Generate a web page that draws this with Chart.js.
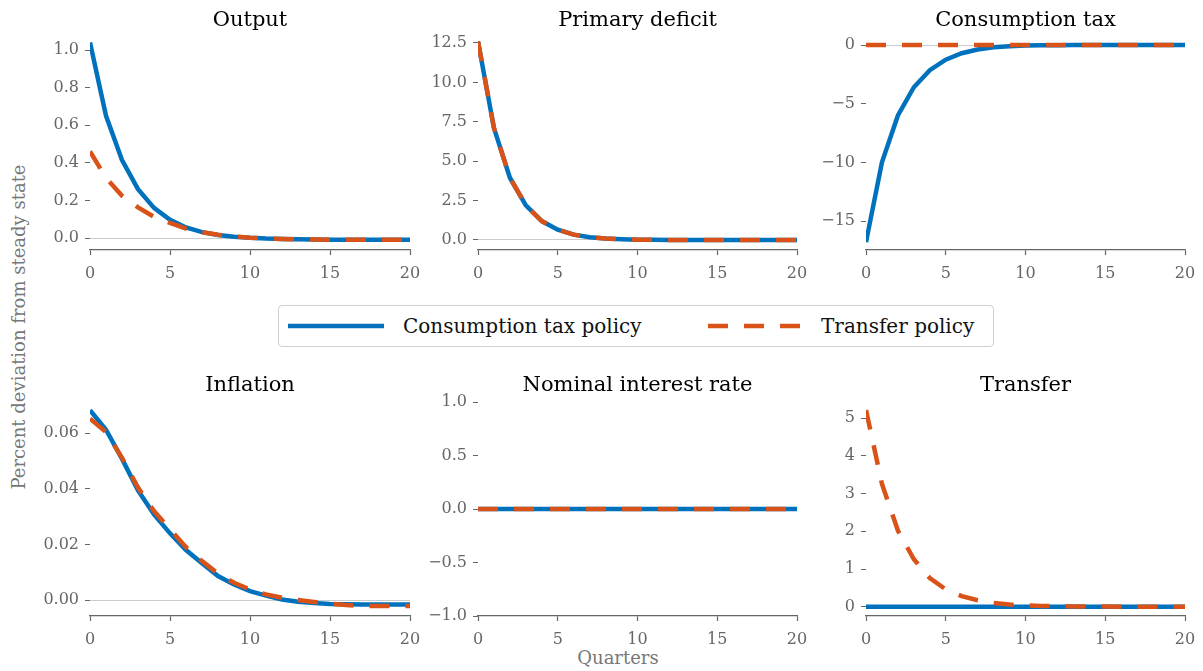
<!DOCTYPE html>
<html>
<head>
<meta charset="utf-8">
<script src="https://cdn.jsdelivr.net/npm/chart.js@4.4.1/dist/chart.umd.min.js"></script>
<style>
  body { margin: 0; background: #fff; width: 1203px; height: 671px; position: relative; overflow: hidden; font-family: "DejaVu Serif", serif; }
  canvas { position: absolute; }
  .lbl { position: absolute; color: #777; font-size: 18px; white-space: nowrap; transform: translate(-50%, -50%); }
  #ylabel { transform: translate(-50%, -50%) rotate(-90deg); }
  #legend { position: absolute; left: 278px; top: 305px; width: 714px; height: 40px; border: 1px solid #d0d0d0; border-radius: 4px; }
  #legend span { position: absolute; top: 50%; transform: translateY(-52%); font-size: 20px; color: #111; }
  #legend svg { position: absolute; left: 0; top: 0; }
</style>
</head>
<body>
<div id="legend">
  <svg width="714" height="40">
    <line x1="9" y1="20" x2="105" y2="20" stroke="#0072BD" stroke-width="4.5"></line>
    <line x1="429" y1="20" x2="522" y2="20" stroke="#D95319" stroke-width="4.5" stroke-dasharray="20 16"></line>
  </svg>
  <span style="left:124px">Consumption tax policy</span>
  <span style="left:542px">Transfer policy</span>
</div>
<div class="lbl" id="ylabel" style="left:18px; top:327px">Percent deviation from steady state</div>
<div class="lbl" style="left:618px; top:657px">Quarters</div>
<script>
// quarters after the shock
const quarters = [0, 1, 2, 3, 4, 5, 6, 7, 8, 9, 10, 11, 12, 13, 14, 15, 16, 17, 18, 19, 20];
const xTicks = [0, 5, 10, 15, 20];

// Output
const outputTax = [1.04, 0.65, 0.415, 0.26, 0.16, 0.097, 0.056, 0.031, 0.016, 0.007, 0.001, -0.003, -0.005, -0.007, -0.008, -0.009, -0.009, -0.009, -0.009, -0.009, -0.009];
const outputTransfer = [0.46, 0.32, 0.225, 0.163, 0.113, 0.08, 0.05, 0.031, 0.017, 0.008, 0.002, -0.002, -0.005, -0.007, -0.008, -0.009, -0.009, -0.009, -0.009, -0.009, -0.009];
const outputTicks = [0.0, 0.2, 0.4, 0.6, 0.8, 1.0];

// Primary deficit
const deficitTax = [12.6, 7.1, 3.95, 2.2, 1.2, 0.65, 0.34, 0.18, 0.09, 0.045, 0.02, 0.01, 0.005, 0.002, 0, 0, 0, 0, 0, 0, 0];
const deficitTransfer = [12.6, 7.1, 3.95, 2.2, 1.2, 0.65, 0.34, 0.18, 0.09, 0.045, 0.02, 0.01, 0.005, 0.002, 0, 0, 0, 0, 0, 0, 0];
const deficitTicks = [0.0, 2.5, 5.0, 7.5, 10.0, 12.5];

// Consumption tax
const ctaxTax = [-16.8, -10.0, -6.0, -3.6, -2.15, -1.25, -0.7, -0.38, -0.2, -0.1, -0.05, -0.025, -0.012, -0.006, -0.003, 0, 0, 0, 0, 0, 0];
const ctaxTransfer = [0, 0, 0, 0, 0, 0, 0, 0, 0, 0, 0, 0, 0, 0, 0, 0, 0, 0, 0, 0, 0];
const ctaxTicks = [-15, -10, -5, 0];

// Inflation
const inflTax = [0.0683, 0.0613, 0.0508, 0.0395, 0.0308, 0.024, 0.018, 0.0132, 0.0086, 0.0056, 0.0032, 0.0016, 0.0002, -0.0006, -0.0011, -0.0014, -0.0015, -0.0016, -0.0016, -0.0016, -0.0016];
const inflTransfer = [0.0653, 0.0605, 0.0512, 0.0405, 0.032, 0.0255, 0.019, 0.014, 0.0095, 0.0062, 0.0038, 0.002, 0.0008, 0.0, -0.0007, -0.0013, -0.0018, -0.0021, -0.0022, -0.0022, -0.0022];
const inflTicks = [0.00, 0.02, 0.04, 0.06];

// Nominal interest rate
const rateTax = [0, 0, 0, 0, 0, 0, 0, 0, 0, 0, 0, 0, 0, 0, 0, 0, 0, 0, 0, 0, 0];
const rateTransfer = [0, 0, 0, 0, 0, 0, 0, 0, 0, 0, 0, 0, 0, 0, 0, 0, 0, 0, 0, 0, 0];
const rateTicks = [-1.0, -0.5, 0.0, 0.5, 1.0];

// Transfer
const transferTax = [0, 0, 0, 0, 0, 0, 0, 0, 0, 0, 0, 0, 0, 0, 0, 0, 0, 0, 0, 0, 0];
const transferTransfer = [5.22, 3.26, 2.02, 1.26, 0.76, 0.46, 0.28, 0.17, 0.1, 0.06, 0.035, 0.02, 0.012, 0.007, 0.004, 0.002, 0.001, 0.001, 0, 0, 0];
const transferTicks = [0, 1, 2, 3, 4, 5];

const BLUE = '#0072BD';
const ORANGE = '#D95319';
const FONT = '"DejaVu Serif", serif';
const Y_W = 80, TITLE_H = 36, X_H = 34, PAD_R = 24;

function fmt(v, dec) {
  return v.toFixed(dec).replace('-', '\u2212');
}

function makePanel(p) {
  const cv = document.createElement('canvas');
  const w = Y_W + p.w + PAD_R, h = TITLE_H + p.h + X_H;
  cv.width = w; cv.height = h;
  cv.style.width = w + 'px'; cv.style.height = h + 'px';
  cv.style.left = (p.x - Y_W) + 'px';
  cv.style.top = (p.y - TITLE_H) + 'px';
  document.body.appendChild(cv);

  return new Chart(cv, {
    type: 'line',
    data: {
      labels: quarters,
      datasets: [
        { label: 'Consumption tax policy', data: p.tax, borderColor: BLUE, borderWidth: 4.5, pointRadius: 0, tension: 0, borderCapStyle: 'butt', order: 2 },
        { label: 'Transfer policy', data: p.transfer, borderColor: ORANGE, borderWidth: 4.5, borderDash: [20, 16], pointRadius: 0, tension: 0, borderCapStyle: 'butt', order: 1 }
      ]
    },
    options: {
      responsive: false,
      animation: false,
      layout: { padding: { left: 0, right: PAD_R, top: 0, bottom: 0 } },
      plugins: {
        legend: { display: false },
        tooltip: { enabled: false },
        title: {
          display: true, text: p.title, fullSize: false, color: '#000',
          font: { family: FONT, size: 21, weight: 'normal', lineHeight: 1.2 },
          padding: { top: p.titleTop, bottom: 10.8 - p.titleTop }
        }
      },
      scales: {
        x: {
          type: 'linear', min: 0, max: 20,
          afterBuildTicks: s => { s.ticks = xTicks.map(v => ({ value: v })); },
          afterFit: s => { s.height = X_H; },
          grid: { drawOnChartArea: false, tickLength: 5, tickColor: '#666', tickWidth: 1.2 },
          border: { display: true, color: '#666', width: 1.3 },
          ticks: { color: '#666', font: { family: FONT, size: 16 }, padding: 9, maxRotation: 0 }
        },
        y: {
          min: p.min, max: p.max,
          afterBuildTicks: s => { s.ticks = p.ticks.map(v => ({ value: v })); },
          afterFit: s => { s.width = Y_W; },
          grid: {
            color: c => (c.tick && c.tick.value === 0 ? '#cccccc' : 'rgba(0,0,0,0)'),
            lineWidth: 1, tickColor: '#666', tickWidth: 1.2, tickLength: 8, tickBorderDash: [0, 3, 5, 100]
          },
          border: { display: false },
          ticks: { color: '#666', font: { family: FONT, size: 16 }, padding: 3, callback: v => fmt(v, p.dec) }
        }
      }
    }
  });
}

// top row
makePanel({ title: 'Output', tax: outputTax, transfer: outputTransfer, ticks: outputTicks, dec: 1, min: -0.0638, max: 1.0745, x: 90, y: 36, w: 320, h: 214, titleTop: 8 });
makePanel({ title: 'Primary deficit', tax: deficitTax, transfer: deficitTransfer, ticks: deficitTicks, dec: 1, min: -0.635, max: 12.94, x: 478, y: 36, w: 319, h: 214, titleTop: 8 });
makePanel({ title: 'Consumption tax', tax: ctaxTax, transfer: ctaxTransfer, ticks: ctaxTicks, dec: 0, min: -17.47, max: 0.767, x: 866, y: 36, w: 319, h: 214, titleTop: 8 });
// bottom row
makePanel({ title: 'Inflation', tax: inflTax, transfer: inflTransfer, ticks: inflTicks, dec: 2, min: -0.00576, max: 0.072, x: 90, y: 400, w: 320, h: 216, titleTop: 9 });
makePanel({ title: 'Nominal interest rate', tax: rateTax, transfer: rateTransfer, ticks: rateTicks, dec: 1, min: -1.0, max: 1.02, x: 478, y: 400, w: 319, h: 216, titleTop: 9 });
makePanel({ title: 'Transfer', tax: transferTax, transfer: transferTransfer, ticks: transferTicks, dec: 0, min: -0.247, max: 5.486, x: 866, y: 400, w: 319, h: 216, titleTop: 9 });
</script>
</body>
</html>
